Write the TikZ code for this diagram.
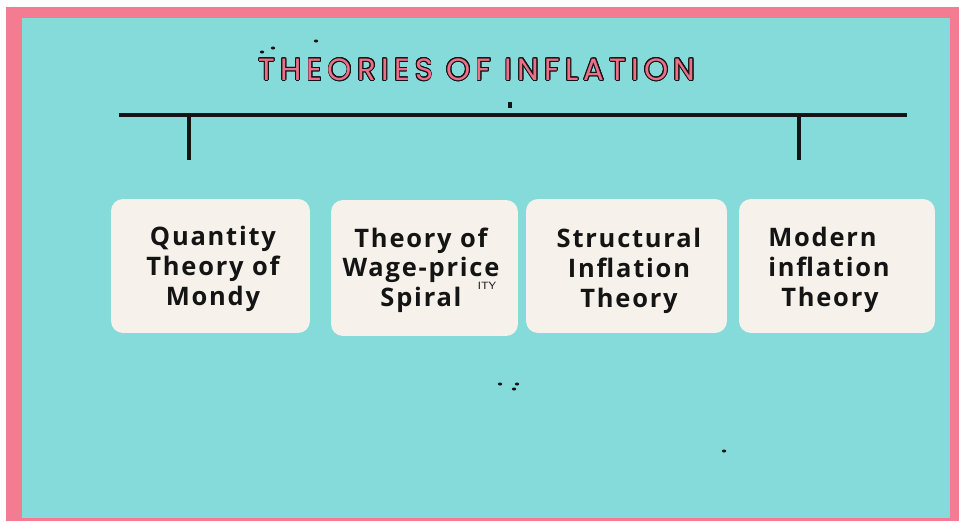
\documentclass[tikz,border=0pt]{standalone}
\usepackage{fontspec}
\usepackage{xcolor}
\usepackage{contour}
\setmainfont{Open Sans}
\newfontfamily\titlefont[LetterSpace=17]{Poppins}
\newfontfamily\boxfont[LetterSpace=7]{Open Sans}
\definecolor{frame}{RGB}{244,124,146}
\definecolor{sea}{RGB}{132,219,218}
\definecolor{paper}{RGB}{246,242,235}
\definecolor{ink}{RGB}{20,20,20}
\definecolor{rose}{RGB}{236,112,138}
\contourlength{0.5pt}
\usetikzlibrary{positioning}

\begin{document}
\begin{tikzpicture}[x=0.02cm, y=-0.02cm,
  theory/.style={draw=none, fill=paper, rounded corners=0.24cm,
                 minimum width=3.98cm, minimum height=2.68cm},
  label/.style={font=\boxfont\bfseries\fontsize{14.5}{17}\selectfont,
                text=ink, align=center},
  bar/.style={line width=2.4pt, ink},
  speck/.style={ink, fill=ink},
]
\useasboundingbox (0,0) rectangle (959,521);
\fill[white] (0,0) rectangle (959,521);
\fill[frame] (6,7) rectangle (959,521);
\fill[sea] (22,18) rectangle (950,518);

\node[font=\titlefont\fontsize{17.5}{20}\selectfont] (title) at (477,70)
  {\contour{ink}{\textcolor{rose}{THEORIES OF INFLATION}}};

\coordinate (barL) at (119,115);
\coordinate (barR) at (907,115);
\coordinate (tickA) at (189,115);
\coordinate (tickAend) at (189,160);
\coordinate (tickB) at (799,115);
\coordinate (tickBend) at (799,160);
\draw[bar] (barL) -- (barR);
\draw[bar] (tickA) -- (tickAend);
\draw[bar] (tickB) -- (tickBend);

\node[theory] (qtm) at (210.5,266) {};
\node[label] (qtmtxt) at (213,269) {Quantity\\Theory of\\Mondy};
\node[theory, minimum width=3.74cm, minimum height=2.72cm] (wage) at (424.5,268) {};
\node[label] (wage1) at (421,241) {Theory of};
\node[label] (wage2) at (421,270) {Wage-price};
\node[label] (wage3) at (421,300) {Spiral};
\node[theory, minimum width=4.02cm] (struct) at (626.5,266) {};
\node[label] (structtxt) at (629,271) {Structural\\Inflation\\Theory};
\node[theory, minimum width=3.92cm] (modern) at (837,266) {};
\node[label, align=left] (modtxt) at (829,270)
  {Modern\\inflation\\\hspace{0.26cm}Theory};
\node[font=\sffamily\fontsize{6}{7}\selectfont, text=ink, inner sep=0pt] (ity) at (487,286) {ITY};

\foreach \x/\y in {262/52, 273/48, 316/41, 500/384, 517/384, 514/389, 724/451}
  \fill[speck] (\x,\y) ellipse (2.2 and 1.5);
\fill[speck] (508,102) rectangle (512,108);
\end{tikzpicture}
\end{document}
